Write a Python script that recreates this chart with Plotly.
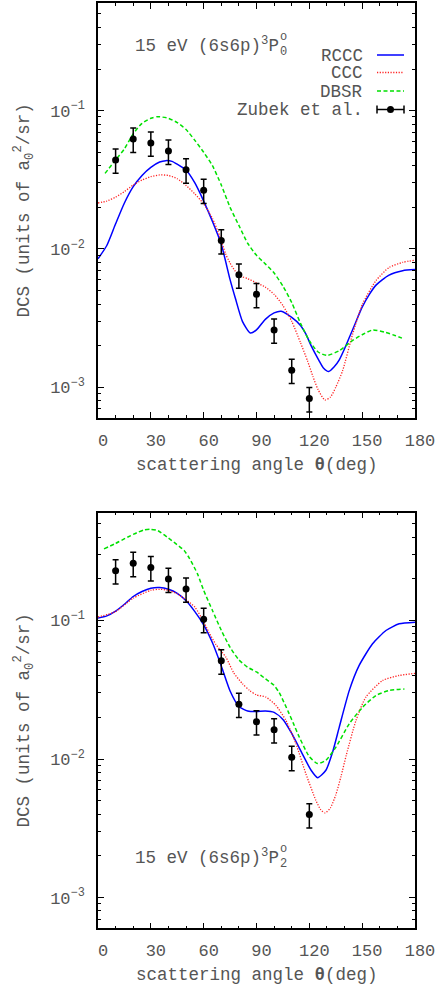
import math
import plotly.graph_objects as go

W, H = 437, 987

# ---------------- (6s6p) 3P0 ----------------
th_rccc_p0 = [0, 5, 10, 15, 20, 25, 30, 35, 38.5, 42, 45, 50, 55, 60, 65, 70, 75, 78, 82, 86.5, 90,
              95, 100, 104, 110, 115, 118, 121, 125.5, 128, 131, 134, 137, 140, 143, 146, 150, 154,
              158, 165, 173, 180]
rccc_p0 = [0.0085, 0.0106, 0.0152, 0.0215, 0.0282, 0.0340, 0.0389, 0.0425, 0.0435, 0.0430, 0.0410,
           0.0372, 0.0300, 0.0222, 0.0158, 0.0108, 0.0060, 0.0044, 0.0030, 0.00247, 0.0026, 0.0031,
           0.00345, 0.00355, 0.0032, 0.0028, 0.00243, 0.0020, 0.00156, 0.00138, 0.0013, 0.00140,
           0.00158, 0.0019, 0.00234, 0.00288, 0.0038, 0.00468, 0.0055, 0.00645, 0.00697, 0.0071]

th_ccc_p0 = [0, 5, 10, 15, 20, 25, 30, 35, 40, 45, 50, 55, 60, 65, 69, 72.5, 75, 78, 82, 85, 90, 95,
             100, 105, 110, 115, 119, 122, 125, 128.8, 132, 135, 138.9, 144.6, 150.2, 157.8, 165.4,
             173, 180]
ccc_p0 = [0.0215, 0.0222, 0.0237, 0.0260, 0.0290, 0.0315, 0.0333, 0.0343, 0.0340, 0.0322, 0.0288,
          0.0250, 0.0212, 0.0166, 0.0125, 0.0092, 0.0079, 0.0069, 0.0063, 0.0061, 0.0057, 0.0053,
          0.0047, 0.0039, 0.0030, 0.0021, 0.00155, 0.00120, 0.00096, 0.00081, 0.00085, 0.00100,
          0.00132, 0.00243, 0.0040, 0.0059, 0.00736, 0.0080, 0.0083]

th_dbsr_p0 = [4, 10, 15, 20, 25, 30, 34, 40, 45, 50, 55, 60, 65, 70, 75, 80, 85, 90, 95, 100, 105,
              110, 115, 120, 125, 130, 137, 145, 150, 156, 163, 169, 174]
dbsr_p0 = [0.0352, 0.044, 0.053, 0.068, 0.081, 0.088, 0.0905, 0.088, 0.082, 0.073, 0.061, 0.050,
           0.040, 0.029, 0.020, 0.0148, 0.0110, 0.0090, 0.0078, 0.0067, 0.0054, 0.0041, 0.0029,
           0.00217, 0.00180, 0.0017, 0.00184, 0.00220, 0.0024, 0.0026, 0.0025, 0.00236, 0.00223]

# ---------------- (6s6p) 3P2 ----------------
th_rccc_p2 = [0, 5, 10, 15, 20, 25, 30, 35, 40, 45, 50, 55, 60, 65, 70, 75, 80, 85, 90, 95, 100, 105,
              110, 116, 121, 124.7, 129.4, 133.2, 137, 142.7, 148.3, 155.9, 163.5, 171, 180]
rccc_p2 = [0.104, 0.108, 0.117, 0.131, 0.149, 0.162, 0.171, 0.173, 0.168, 0.157, 0.139, 0.116, 0.093,
           0.069, 0.047, 0.031, 0.0240, 0.0222, 0.0220, 0.0222, 0.0217, 0.0193, 0.0153, 0.0109,
           0.0083, 0.00734, 0.0083, 0.0112, 0.0170, 0.0313, 0.0474, 0.0679, 0.0847, 0.0946, 0.0972]

th_ccc_p2 = [0, 10, 20, 30, 35, 40, 45, 50, 55, 60, 63, 67, 72.6, 77, 82, 86, 90, 95.3, 101, 106.7,
             112.4, 118, 123.7, 126.5, 129, 132, 135, 138, 141, 146.5, 152.1, 161.6, 171, 180]
ccc_p2 = [0.106, 0.116, 0.145, 0.165, 0.168, 0.165, 0.156, 0.141, 0.125, 0.098, 0.082, 0.067, 0.0544,
          0.042, 0.035, 0.0313, 0.0290, 0.0280, 0.0244, 0.0190, 0.0129, 0.00785, 0.00504, 0.00430,
          0.00408, 0.00445, 0.0055, 0.0075, 0.0107, 0.019, 0.028, 0.0369, 0.0401, 0.0415]

th_dbsr_p2 = [3.4, 10, 16.7, 22, 26, 30, 34, 39.4, 44, 48.9, 52, 56.5, 60, 65, 70, 75, 80, 85, 90, 95,
              100, 103, 108, 111, 114.3, 120, 124.7, 129.4, 135.1, 142.7, 150.3, 157.9, 165.5, 174]
dbsr_p2 = [0.329, 0.360, 0.399, 0.430, 0.450, 0.455, 0.445, 0.399, 0.360, 0.320, 0.280, 0.217, 0.165,
           0.118, 0.085, 0.064, 0.052, 0.046, 0.0425, 0.038, 0.034, 0.030, 0.022, 0.018, 0.0144,
           0.0104, 0.00927, 0.0098, 0.0122, 0.018, 0.0237, 0.0288, 0.0313, 0.032]

# ---------------- measurements (Zubek et al.) ----------------
th_zubek = [10, 20, 30, 40, 50, 60, 70, 80, 90, 100, 110, 120]
zubek_p0 = [0.044, 0.0624, 0.0584, 0.0511, 0.0374, 0.0266, 0.0115, 0.0065, 0.0047, 0.0026, 0.00133, 0.00083]
zubek_p2 = [0.229, 0.259, 0.241, 0.199, 0.169, 0.102, 0.0512, 0.0249, 0.0186, 0.0163, 0.0103, 0.00397]
zubek_err_percent = 20

x_ticks = [0, 30, 60, 90, 120, 150, 180]
y_major = [1e-3, 1e-2, 1e-1]
y_major_text = ["10<sup>−3</sup>", "10<sup>−2</sup>", "10<sup>−1</sup>"]
y_range = [6e-4, 0.6]

FONT = "Liberation Mono, Courier New, monospace"
GREY = "#555555"
BLUE, RED, GREEN = "#0000ff", "#ff2020", "#00e000"

RCCC_LINE = dict(color=BLUE, width=1.5)
CCC_LINE = dict(color=RED, width=1.3, dash="1.2px,1.5px")
DBSR_LINE = dict(color=GREEN, width=1.5, dash="4px,2.5px")


def px(x):
    return x / W


def py(y):
    return 1 - y / H


fig = go.Figure()

panels = [
    ("x", "y", th_rccc_p0, rccc_p0, th_ccc_p0, ccc_p0, th_dbsr_p0, dbsr_p0, zubek_p0),
    ("x2", "y2", th_rccc_p2, rccc_p2, th_ccc_p2, ccc_p2, th_dbsr_p2, dbsr_p2, zubek_p2),
]
for xa, ya, tr, vr, tc, vc, td, vd, vz in panels:
    fig.add_trace(go.Scatter(x=tr, y=vr, mode="lines", line=dict(**RCCC_LINE, shape="spline", smoothing=0.6),
                             xaxis=xa, yaxis=ya, name="RCCC", showlegend=False))
    fig.add_trace(go.Scatter(x=tc, y=vc, mode="lines", line=dict(**CCC_LINE, shape="spline", smoothing=0.6),
                             xaxis=xa, yaxis=ya, name="CCC", showlegend=False))
    fig.add_trace(go.Scatter(x=td, y=vd, mode="lines", line=dict(**DBSR_LINE, shape="spline", smoothing=0.6),
                             xaxis=xa, yaxis=ya, name="DBSR", showlegend=False))
    fig.add_trace(go.Scatter(x=th_zubek, y=vz, mode="markers",
                             marker=dict(color="black", size=7),
                             error_y=dict(type="percent", value=zubek_err_percent, color="black",
                                          thickness=1.5, width=3),
                             xaxis=xa, yaxis=ya, name="Zubek et al.", showlegend=False))

# y minor ticks at 2..9 of each decade inside the range
y_minor = []
for d in range(-4, 0):
    for m in range(2, 10):
        v = m * 10 ** d
        if y_range[0] <= v <= y_range[1]:
            y_minor.append(v)

x_dom = [px(98), px(415)]
y_doms = [[py(418), py(3)], [py(928.3), py(512.7)]]

axis_common = dict(showline=True, linecolor="black", linewidth=1.5, mirror="ticks",
                   ticks="inside", tickcolor="black", tickwidth=1, ticklen=6,
                   showgrid=False, zeroline=False, automargin=False,
                   tickfont=dict(family=FONT, size=17, color=GREY))

layout_axes = {}
for i, (xa, ya) in enumerate([("xaxis", "yaxis"), ("xaxis2", "yaxis2")]):
    anchor_y = "y" if i == 0 else "y2"
    anchor_x = "x" if i == 0 else "x2"
    layout_axes[xa] = dict(axis_common, domain=x_dom, anchor=anchor_y, range=[0, 180],
                           tickvals=x_ticks, ticklabelshift=5, ticklabelstandoff=6,
                           minor=dict(dtick=10, ticks="inside", ticklen=3, tickcolor="black"))
    layout_axes[ya] = dict(axis_common, domain=y_doms[i], anchor=anchor_x, type="log",
                           range=[math.log10(y_range[0]), math.log10(y_range[1])],
                           tickvals=y_major, ticktext=y_major_text, ticklabelstandoff=8,
                           minor=dict(tickvals=y_minor, ticks="inside", ticklen=3, tickcolor="black"))

annotations = []
shapes = []


def text(x, y, s, size=17.5, xanchor="center", angle=0, height=None):
    ann = dict(x=px(x), y=py(y), xref="paper", yref="paper", text=s, showarrow=False,
               xanchor=xanchor, yanchor="middle", textangle=angle,
               font=dict(family=FONT, size=size, color=GREY))
    if height is not None:
        ann["height"] = height
    annotations.append(ann)


# axis titles
for y_xt, y_yt in [(465, 210.5), (975, 720.5)]:
    text(256.5, y_xt, "scattering angle <b>θ</b>(deg)")
    text(24, y_yt, "DCS (units of a<sub>0</sub><sup>2</sup>/sr)", angle=-90)

# panel labels: term symbol with stacked parity mark and J subscript
for yc, sub in [(45, "0"), (857, "2")]:
    text(133, yc, "15 eV (6s6p)<sup>3</sup>P", xanchor="left")
    text(278, yc - 8, "o", size=12, xanchor="left", height=12)
    text(278, yc + 7, sub, size=12, xanchor="left", height=12)

# key
key_rows = [("RCCC", 55, RCCC_LINE), ("CCC", 72.5, CCC_LINE), ("DBSR", 91, DBSR_LINE)]
kx0, kx1 = 377, 404
for label, yk, ln in key_rows:
    text(365, yk, label, xanchor="right", height=17)
    shapes.append(dict(type="line", xref="paper", yref="paper", x0=px(kx0), x1=px(kx1),
                       y0=py(yk), y1=py(yk), line=ln))
yz = 109.5
text(365, yz, "Zubek et al.", xanchor="right", height=17)
shapes.append(dict(type="line", xref="paper", yref="paper", x0=px(kx0), x1=px(kx1), y0=py(yz), y1=py(yz),
                   line=dict(color="black", width=1.5)))
for xc in (kx0, kx1):
    shapes.append(dict(type="line", xref="paper", yref="paper", x0=px(xc), x1=px(xc),
                       y0=py(yz - 4), y1=py(yz + 4), line=dict(color="black", width=1.5)))
shapes.append(dict(type="circle", xref="paper", yref="paper", x0=px(390.5 - 3.5), x1=px(390.5 + 3.5),
                   y0=py(yz - 3.5), y1=py(yz + 3.5), fillcolor="black", line=dict(color="black", width=0)))

fig.update_layout(width=W, height=H, margin=dict(l=0, r=0, t=0, b=0, autoexpand=False),
                  paper_bgcolor="white", plot_bgcolor="white", showlegend=False,
                  annotations=annotations, shapes=shapes, **layout_axes)

fig.write_html("out.html")
